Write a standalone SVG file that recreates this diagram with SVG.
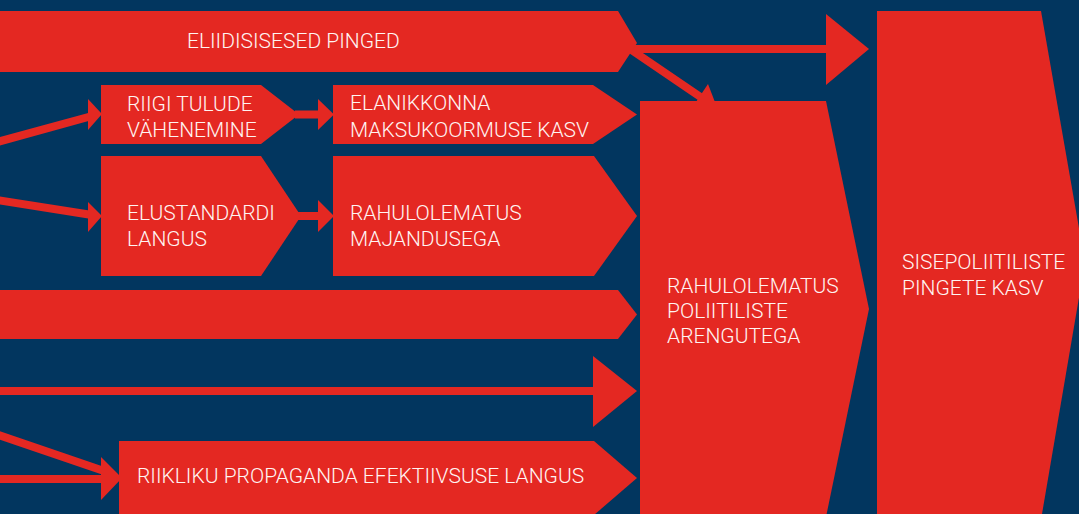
<svg xmlns="http://www.w3.org/2000/svg" width="1079" height="514" viewBox="0 0 1079 514">
<style>
.n{fill:#E42822}
.c{stroke:#E42822;stroke-width:8;fill:none}
.h{fill:#E42822}
.t{font-family:Roboto,"Liberation Sans",sans-serif;font-size:21px;font-weight:300;fill:#FFF4F2}
</style>
<rect width="1079" height="514" fill="#02365F"/>
<g id="connectors">
<line class="c" x1="630" y1="49" x2="830" y2="49"/>
<polygon class="h" points="826,14 869,49 826,85"/>
<line class="c" x1="630" y1="49" x2="702" y2="98"/>
<polygon class="h" points="708,84 692,108 718,110"/>
<line class="c" x1="295" y1="114.5" x2="320" y2="114.5"/>
<polygon class="h" points="318,99 334,114.5 318,130"/>
<line class="c" x1="295" y1="216" x2="320" y2="216"/>
<polygon class="h" points="318,200 334,216 318,232"/>
<line class="c" x1="-10" y1="391" x2="597" y2="391"/>
<polygon class="h" points="593,356 637,391 593,427"/>
<line class="c" x1="-10" y1="144" x2="92" y2="116"/>
<polygon class="h" points="88,99 102,114 88,130"/>
<line class="c" x1="-10" y1="199" x2="92" y2="215"/>
<polygon class="h" points="88,202 102,216 88,232"/>
<line class="c" x1="-10" y1="479" x2="104" y2="479"/>
<line class="c" x1="-10" y1="432" x2="104" y2="471"/>
<polygon class="h" points="101,457 122,478 101,500"/>
</g>
<g id="eliidisisesed">
<polygon class="n" points="0,11 618,11 637,43 618,72 0,72"/>
<text class="t" x="187" y="48">ELIIDISISESED PINGED</text>
</g>
<g id="riigi-tulude">
<polygon class="n" points="101,85 261,85 299,114.5 261,144 101,144"/>
<text class="t" x="127" y="111">RIIGI TULUDE</text>
<text class="t" x="127" y="137">VÄHENEMINE</text>
</g>
<g id="elanikkonna">
<polygon class="n" points="333,85 593,85 637,114.5 593,144 333,144"/>
<text class="t" x="350" y="110">ELANIKKONNA</text>
<text class="t" x="350" y="137">MAKSUKOORMUSE KASV</text>
</g>
<g id="elustandardi">
<polygon class="n" points="101,156 261,156 301,216 261,276 101,276"/>
<text class="t" x="127" y="220">ELUSTANDARDI</text>
<text class="t" x="127" y="246">LANGUS</text>
</g>
<g id="rahulolematus-majandusega">
<polygon class="n" points="333,156 594,156 637,216 594,276 333,276"/>
<text class="t" x="350" y="220">RAHULOLEMATUS</text>
<text class="t" x="350" y="246">MAJANDUSEGA</text>
</g>
<g id="band">
<polygon class="n" points="0,290 618,290 637,314.5 618,339 0,339"/>
</g>
<g id="riikliku">
<polygon class="n" points="119,441 594,441 637,478 594,515 119,515"/>
<text class="t" x="137" y="483">RIIKLIKU PROPAGANDA EFEKTIIVSUSE LANGUS</text>
</g>
<g id="rahulolematus-poliitiliste">
<polygon class="n" points="640,101 826,101 869,309 826,517 640,517"/>
<text class="t" x="667" y="293">RAHULOLEMATUS</text>
<text class="t" x="667" y="318">POLIITILISTE</text>
<text class="t" x="667" y="343">ARENGUTEGA</text>
</g>
<g id="sisepoliitiliste">
<polygon class="n" points="877,11 1041,11 1085,262.5 1042,514 877,514"/>
<text class="t" x="902" y="269">SISEPOLIITILISTE</text>
<text class="t" x="902" y="295">PINGETE KASV</text>
</g>
</svg>
